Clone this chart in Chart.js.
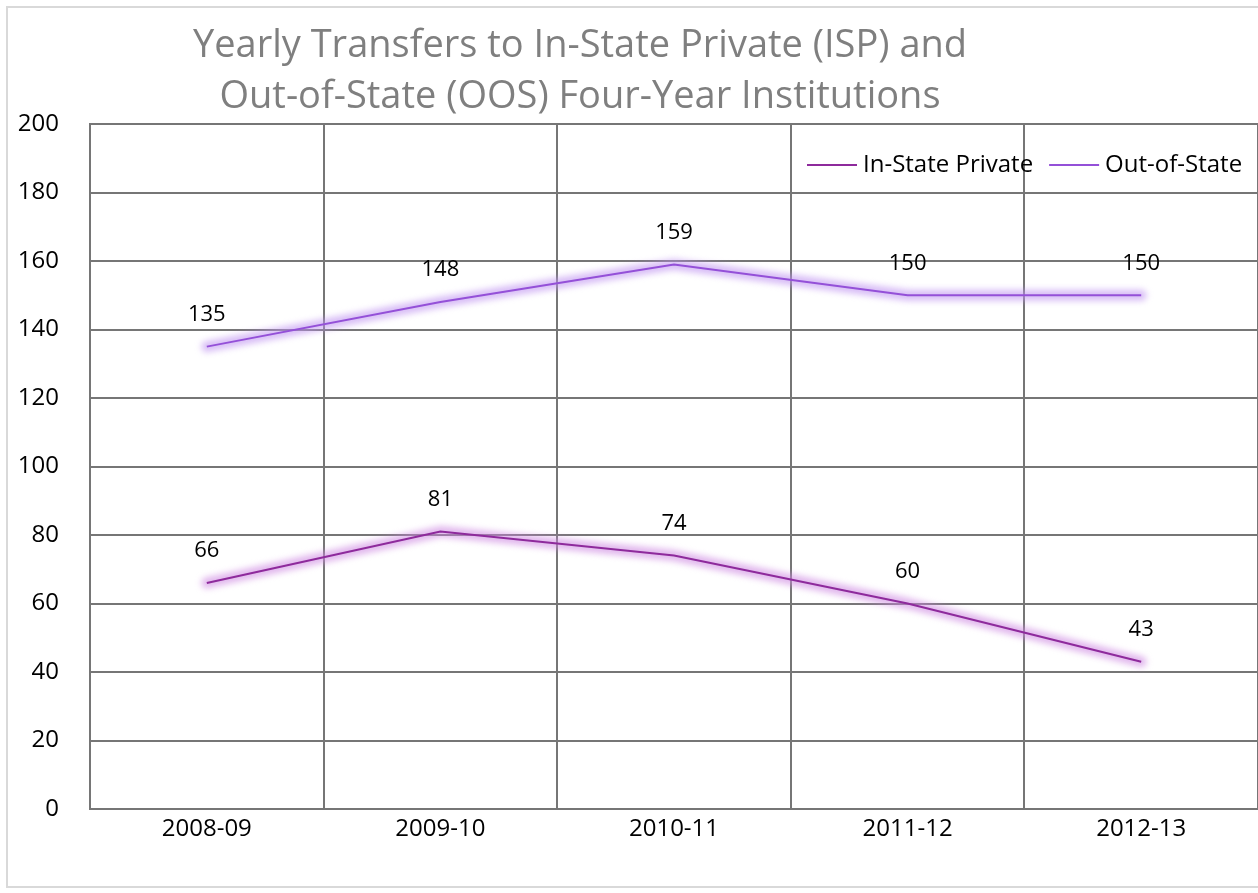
<!DOCTYPE html>
<html>
<head>
<meta charset="utf-8">
<script src="https://cdn.jsdelivr.net/npm/chart.js@4.4.0/dist/chart.umd.min.js"></script>
<style>
  html, body { margin: 0; padding: 0; background: #fff; }
  canvas { display: block; }
</style>
</head>
<body>
<canvas id="transfers" width="1258" height="893"></canvas>
<script>
const years = ['2008-09', '2009-10', '2010-11', '2011-12', '2012-13'];
const inStatePrivate = [66, 81, 74, 60, 43];
const outOfState = [135, 148, 159, 150, 150];
const titleLines = ['Yearly Transfers to In-State Private (ISP) and', 'Out-of-State (OOS) Four-Year Institutions'];

const FONT = '"Open Sans", Lato, sans-serif';
const colors = ['#8e2a9c', '#9450d8'];
const glowColors = ['rgba(205,135,225,0.6)', 'rgba(190,145,240,0.6)'];

// frame, title, legend, glow and value labels
const decorations = {
  id: 'decorations',
  beforeDraw(chart) {
    const ctx = chart.ctx;
    ctx.save();
    ctx.strokeStyle = '#d9d9d9';
    ctx.lineWidth = 2;
    ctx.strokeRect(7, 7, 1300, 880);
    ctx.fillStyle = '#7f7f7f';
    ctx.font = '38px ' + FONT;
    ctx.textAlign = 'center';
    ctx.textBaseline = 'middle';
    ctx.fillText(titleLines[0], 580, 46);
    ctx.fillText(titleLines[1], 580, 97);
    ctx.restore();
  },
  beforeDatasetsDraw(chart) {
    const ctx = chart.ctx;
    chart.data.datasets.forEach((ds, i) => {
      const pts = chart.getDatasetMeta(i).data;
      ctx.save();
      ctx.filter = 'blur(3px)';
      ctx.strokeStyle = glowColors[i];
      ctx.lineWidth = 11;
      ctx.lineJoin = 'round';
      ctx.lineCap = 'round';
      ctx.beginPath();
      pts.forEach((p, j) => j ? ctx.lineTo(p.x, p.y) : ctx.moveTo(p.x, p.y));
      ctx.stroke();
      ctx.restore();
    });
  },
  afterDatasetsDraw(chart) {
    const ctx = chart.ctx;
    ctx.save();
    ctx.font = '22px ' + FONT;
    ctx.fillStyle = '#000';
    ctx.textAlign = 'center';
    ctx.textBaseline = 'middle';
    chart.data.datasets.forEach((ds, i) => {
      chart.getDatasetMeta(i).data.forEach((p, j) => {
        ctx.fillText(String(ds.data[j]), p.x, p.y - 32);
      });
    });

    // legend in the upper right of the plot
    ctx.font = '24px ' + FONT;
    const area = chart.chartArea;
    let x = 807;
    const y = area.top + 41;
    chart.data.datasets.forEach((ds, i) => {
      ctx.strokeStyle = colors[i];
      ctx.lineWidth = 2;
      ctx.beginPath();
      ctx.moveTo(x, y);
      ctx.lineTo(x + 50, y);
      ctx.stroke();
      ctx.textAlign = 'left';
      ctx.fillText(ds.label, x + 56, y);
      x += 56 + ctx.measureText(ds.label).width + 16;
    });
    ctx.restore();
  }
};

new Chart(document.getElementById('transfers'), {
  type: 'line',
  data: {
    labels: years,
    datasets: [
      { label: 'In-State Private', data: inStatePrivate, borderColor: colors[0], borderWidth: 2, pointRadius: 0, tension: 0 },
      { label: 'Out-of-State', data: outOfState, borderColor: colors[1], borderWidth: 2, pointRadius: 0, tension: 0 }
    ]
  },
  options: {
    responsive: false,
    animation: false,
    layout: { padding: { top: 124, right: 0, left: 0, bottom: 0 } },
    plugins: {
      legend: { display: false },
      tooltip: { enabled: false }
    },
    scales: {
      x: {
        offset: true,
        grid: { color: '#767676', lineWidth: 2, offset: true, drawTicks: false },
        border: { color: '#767676', width: 2 },
        ticks: { color: '#000', font: { family: FONT, size: 24 }, padding: 6 },
        afterFit(scale) { scale.height = 84; }
      },
      y: {
        min: 0,
        max: 200,
        grid: { color: '#767676', lineWidth: 2, drawTicks: false },
        border: { color: '#767676', width: 2 },
        ticks: { stepSize: 20, color: '#000', font: { family: FONT, size: 24 }, padding: 31 },
        afterFit(scale) { scale.width = 90; }
      }
    }
  },
  plugins: [decorations]
});
</script>
</body>
</html>
